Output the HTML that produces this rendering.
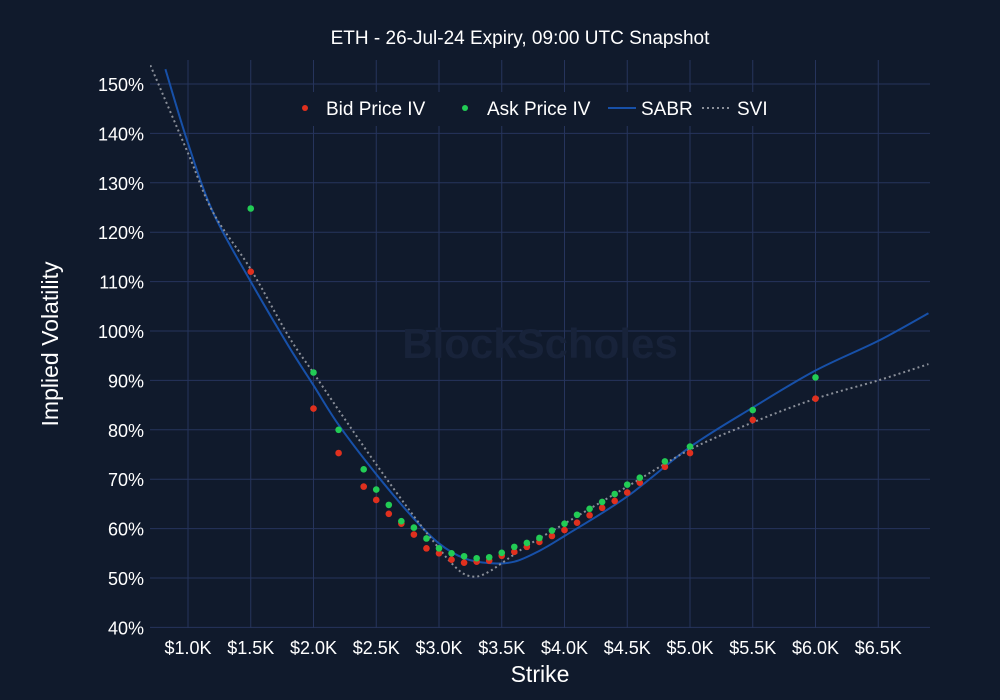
<!DOCTYPE html>
<html><head><meta charset="utf-8"><style>
html,body{margin:0;padding:0;background:#101a2c;}
svg{display:block;font-family:"Liberation Sans","DejaVu Sans",sans-serif;}
</style></head><body>
<svg id="chart" width="1000" height="700" viewBox="0 0 1000 700">
<rect x="0" y="0" width="1000" height="700" fill="#101a2c"/>
<g id="grid"></g>
<text x="540" y="358" font-size="42" fill="#18233a" text-anchor="middle" font-weight="bold">BlockScholes</text>
<g id="curves"></g>
<g id="points"></g>
<g id="axes"></g>
<text x="520" y="44" font-size="19" fill="#ffffff" text-anchor="middle">ETH - 26-Jul-24 Expiry, 09:00 UTC Snapshot</text>
<text x="540" y="682" font-size="23" fill="#ffffff" text-anchor="middle">Strike</text>
<text transform="translate(58,344) rotate(-90)" font-size="23" fill="#ffffff" text-anchor="middle">Implied Volatility</text>
<g>
<rect x="282" y="92" width="520" height="34" fill="#101a2c"/>
<g><circle cx="305" cy="108" r="3" fill="#e0301e"/><text x="326" y="115" font-size="19" fill="#fff">Bid Price IV</text></g>
<g><circle cx="465" cy="108" r="3" fill="#22cc55"/><text x="487" y="115" font-size="19" fill="#fff">Ask Price IV</text></g>
<g><line x1="608" y1="108" x2="636" y2="108" stroke="#1750a8" stroke-width="2"/><text x="641" y="115" font-size="19" fill="#fff">SABR</text></g>
<g><line x1="702" y1="108" x2="730" y2="108" stroke="#8a8f99" stroke-width="2" stroke-dasharray="2,3"/><text x="737" y="115" font-size="19" fill="#fff">SVI</text></g>
</g>
</svg>
<script>
const strikes=[1.5,2.0,2.2,2.4,2.5,2.6,2.7,2.8,2.9,3.0,3.1,3.2,3.3,3.4,3.5,3.6,3.7,3.8,3.9,4.0,4.1,4.2,4.3,4.4,4.5,4.6,4.8,5.0,5.5,6.0];
const bidIV=[112,84.3,75.3,68.5,65.8,63,61,58.8,56,55,53.7,53.1,53.3,53.5,54.5,55.3,56.3,57.3,58.5,59.7,61.2,62.7,64.2,65.6,67.3,69.3,72.5,75.3,82,86.3];
const askIV=[124.8,91.6,80,72,67.9,64.8,61.5,60.2,58,56,55,54.4,54,54.2,55.1,56.3,57.1,58.1,59.6,61,62.8,64,65.4,67,68.9,70.3,73.6,76.6,84,90.6];
const sabrK=[0.82,1.0,1.2,1.5,1.8,2.0,2.2,2.5,2.8,3.0,3.2,3.4,3.6,3.8,4.0,4.5,5.0,5.5,6.0,6.5,6.9];
const sabrIV=[153,138,124,110,97,89,81,71,62,57,54,53,53.3,55.5,58.5,66.5,76.5,84.5,92,98,103.6];
const sviK=[0.7,1.0,1.2,1.5,1.8,2.0,2.2,2.5,2.8,3.0,3.1,3.2,3.3,3.4,3.5,3.7,4.0,4.5,5.0,5.5,6.0,6.5,6.9];
const sviIV=[153.8,136,124,112.5,99,91.5,84,73,62.5,56,53,50.8,50.3,51.3,53,56.5,61,68.5,76,81.5,86.3,90,93.3];
const xTicks=[1.0,1.5,2.0,2.5,3.0,3.5,4.0,4.5,5.0,5.5,6.0,6.5];
const yTicks=[40,50,60,70,80,90,100,110,120,130,140,150];
const L=150,R=930,T=60,B=628;
const xS=k=>188+(k-1)*125.5;
const yS=v=>578-(v-50)*4.94;
const NS='http://www.w3.org/2000/svg';
function mk(tag,attrs,parent){const e=document.createElementNS(NS,tag);for(const a in attrs)e.setAttribute(a,attrs[a]);parent.appendChild(e);return e;}
const grid=document.getElementById('grid'),axes=document.getElementById('axes');
xTicks.forEach(k=>{
  const l=mk('line',{x1:xS(k),x2:xS(k),y1:T,y2:B,stroke:'#26345c','stroke-width':1},grid);
  
  
  const t=mk('text',{x:xS(k),y:654,'font-size':18,fill:'#fff','text-anchor':'middle'},axes);
  t.textContent='$'+k.toFixed(1)+'K';
  
  
});
yTicks.forEach(v=>{
  const l=mk('line',{x1:L,x2:R,y1:yS(v),y2:yS(v),stroke:'#26345c','stroke-width':1},grid);
  
  
  const t=mk('text',{x:144,y:yS(v)+7,'font-size':18,fill:'#fff','text-anchor':'end'},axes);
  t.textContent=v+'%';
  
  
});
function smooth(ks,vs){
  const p=ks.map((k,i)=>[xS(k),yS(vs[i])]);
  let d='M'+p[0][0]+','+p[0][1];
  for(let i=0;i<p.length-1;i++){
    const p0=p[Math.max(0,i-1)],p1=p[i],p2=p[i+1],p3=p[Math.min(p.length-1,i+2)];
    const c1=[p1[0]+(p2[0]-p0[0])/6,p1[1]+(p2[1]-p0[1])/6];
    const c2=[p2[0]-(p3[0]-p1[0])/6,p2[1]-(p3[1]-p1[1])/6];
    d+=' C'+c1+' '+c2+' '+p2;
  }
  return d;
}
const curves=document.getElementById('curves');
const clip=mk('clipPath',{id:'clip'},curves);
mk('rect',{x:L,y:T,width:R-L,height:B-T},clip);
const s=mk('path',{d:smooth(sabrK,sabrIV),fill:'none',stroke:'#1750a8','stroke-width':2,'clip-path':'url(#clip)'},curves);


const v=mk('path',{d:smooth(sviK,sviIV),fill:'none',stroke:'#8a8f99','stroke-width':2,'stroke-dasharray':'2,3','clip-path':'url(#clip)'},curves);


const pts=document.getElementById('points');
strikes.forEach((k,i)=>{
  const b=mk('circle',{cx:xS(k),cy:yS(bidIV[i]),r:3.3,fill:'#e0301e'},pts);
  
  
});
strikes.forEach((k,i)=>{
  const a=mk('circle',{cx:xS(k),cy:yS(askIV[i]),r:3.3,fill:'#22cc55'},pts);
  
  
});
</script>
</body></html>
